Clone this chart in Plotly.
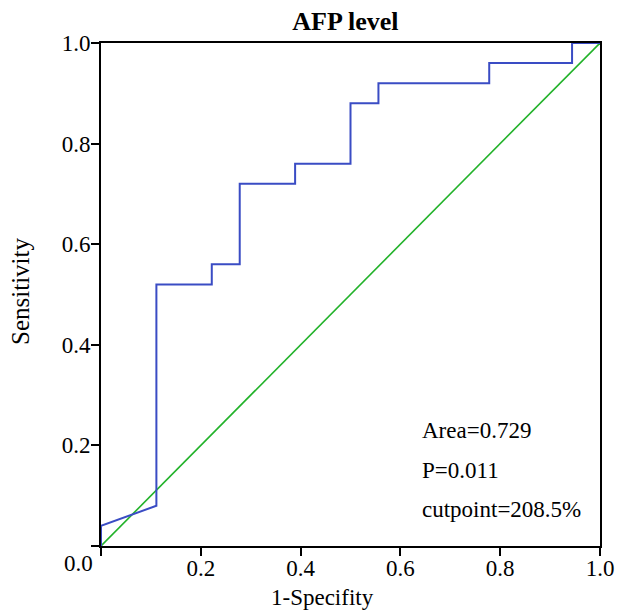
import plotly.graph_objects as go

# ROC curve points (1-Specificity, Sensitivity)
roc_fpr = [0.0, 0.0, 0.111, 0.111, 0.222, 0.222, 0.278, 0.278, 0.389, 0.389,
           0.5, 0.5, 0.556, 0.556, 0.778, 0.778, 0.944, 0.944, 1.0]
roc_tpr = [0.0, 0.04, 0.08, 0.52, 0.52, 0.56, 0.56, 0.72, 0.72, 0.76,
           0.76, 0.88, 0.88, 0.92, 0.92, 0.96, 0.96, 1.0, 1.0]
ref_x = [0.0, 1.0]
ref_y = [0.0, 1.0]
tick_vals = [0.0, 0.2, 0.4, 0.6, 0.8, 1.0]
tick_text = ["", "0.2", "0.4", "0.6", "0.8", "1.0"]
stats_text = ["Area=0.729", "P=0.011", "cutpoint=208.5%"]

FONT = "Liberation Serif, Times New Roman, serif"

fig = go.Figure()
fig.add_trace(go.Scatter(x=ref_x, y=ref_y, mode="lines",
                         line=dict(color="#22b22a", width=1.6), showlegend=False))
fig.add_trace(go.Scatter(x=roc_fpr, y=roc_tpr, mode="lines",
                         line=dict(color="#3a4cc4", width=2), showlegend=False))

axis_common = dict(range=[0, 1], showgrid=False, zeroline=False,
                   showline=True, linecolor="black", linewidth=2, mirror=True,
                   ticks="outside", ticklen=8, tickwidth=1.5, tickcolor="black",
                   tickvals=tick_vals, ticktext=tick_text,
                   tickfont=dict(family=FONT, size=23, color="black"))
fig.update_xaxes(**axis_common, ticklabelstandoff=-8)
fig.update_yaxes(**axis_common, ticklabelstandoff=-4)

annos = []
annos.append(dict(text="0.0", x=0, y=0, xref="paper", yref="paper", xanchor="right",
                  yanchor="middle", xshift=-6, yshift=-17, showarrow=False,
                  font=dict(family=FONT, size=23, color="black")))
annos.append(dict(text="1-Specifity", x=0.443, y=0, xref="paper", yref="paper",
                  xanchor="center", yanchor="middle", yshift=-51, showarrow=False,
                  font=dict(family=FONT, size=23, color="black")))
annos.append(dict(text="Sensitivity", x=0, y=0.505, xref="paper", yref="paper",
                  xanchor="center", yanchor="middle", xshift=-80, textangle=-90,
                  showarrow=False, font=dict(family=FONT, size=25, color="black")))
stat_y = [0.2306, 0.151, 0.0716]
for t, yy in zip(stats_text, stat_y):
    annos.append(dict(text=t, x=0.639, y=yy, xref="paper", yref="paper",
                      xanchor="left", yanchor="middle", showarrow=False,
                      font=dict(family=FONT, size=23, color="black")))

# page body adds an 8px offset, so the figure is sized 8px smaller
fig.update_layout(
    width=618, height=607,
    margin=dict(l=93, r=26, t=35, b=69),
    paper_bgcolor="white", plot_bgcolor="white",
    title=dict(text="<b>AFP level</b>", x=0.546, xanchor="center",
               y=0.979, yanchor="middle", yref="container",
               font=dict(family=FONT, size=26, color="black")),
    annotations=annos,
)

fig.write_html("out.html")
